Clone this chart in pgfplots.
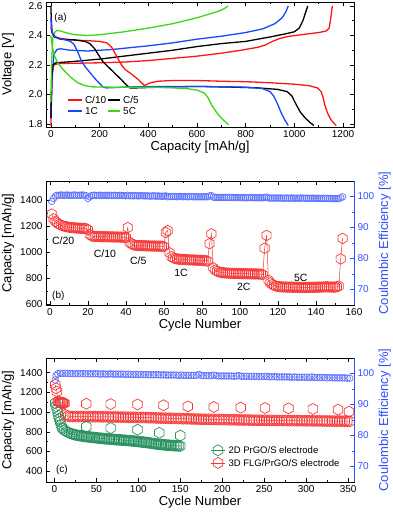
\documentclass[border=0pt]{standalone}
\usepackage{fontspec}
\setmainfont{Liberation Sans}
\usepackage{pgfplots}
\pgfplotsset{compat=1.18}

\definecolor{cred}{RGB}{255,20,20}
\definecolor{cblue}{RGB}{25,70,255}
\definecolor{cgreen}{RGB}{60,215,20}
\definecolor{hexred}{RGB}{245,55,55}
\definecolor{hexgreen}{RGB}{40,145,95}
\definecolor{ceblue}{RGB}{95,115,255}
\definecolor{axblue}{RGB}{50,80,255}

% open hexagon, pointy top
\pgfdeclareplotmark{hex}{%
  \pgfpathmoveto{\pgfpointpolar{90}{\pgfplotmarksize}}%
  \pgfpathlineto{\pgfpointpolar{150}{\pgfplotmarksize}}%
  \pgfpathlineto{\pgfpointpolar{210}{\pgfplotmarksize}}%
  \pgfpathlineto{\pgfpointpolar{270}{\pgfplotmarksize}}%
  \pgfpathlineto{\pgfpointpolar{330}{\pgfplotmarksize}}%
  \pgfpathlineto{\pgfpointpolar{30}{\pgfplotmarksize}}%
  \pgfpathclose
  \pgfusepathqstroke}

\pgfplotsset{
  panel/.style={
    scale only axis, width=308pt, anchor=south west,
    tick align=inside, major tick length=4pt, minor tick length=2pt,
    every tick/.style={black, line width=0.6pt},
    axis line style={line width=0.8pt},
    tick label style={font=\fontsize{10}{12}\selectfont},
    label style={font=\fontsize{13}{15}\selectfont},
    /pgf/number format/assume math mode=true,
    /pgf/number format/1000 sep={},
    x label style={at={(axis description cs:0.5,-0.165)}, anchor=center},
    y label style={at={(axis description cs:-0.123,0.5)}, anchor=center},
  },
  ceaxis/.style={
    scale only axis, width=308pt, height=124pt, anchor=south west,
    axis x line=none, axis y line*=right,
    tick align=inside, major tick length=4pt, minor tick length=2pt,
    every tick/.style={axblue, line width=0.6pt},
    axis line style={axblue, line width=0.8pt},
    tick label style={font=\fontsize{10}{12}\selectfont, text=axblue},
    label style={font=\fontsize{13}{15}\selectfont, text=axblue},
    /pgf/number format/assume math mode=true,
    ymin=65, ymax=105, ytick={70,80,90,100}, minor y tick num=1,
    ylabel={Coulombic Efficiency [\%]},
    y label style={at={(axis description cs:1.1,0.5)}, anchor=center},
  },
  curve/.style={line width=1.3pt, no marks},
  caph/.style={hexred, line width=0.5pt, mark=hex, mark size=5.3pt,
    mark options={solid, line width=0.7pt}},
  ceo/.style={ceblue, only marks, mark=o, mark size=3.3pt,
    mark options={line width=0.7pt}},
}

\begin{document}
\begin{tikzpicture}[x=1pt,y=1pt]
\useasboundingbox (0,0) rectangle (392,512);

% ---------------- (a) voltage profiles
\begin{axis}[panel,
  at={(46pt,385pt)}, height=125pt,
  xmin=-20, xmax=1245, ymin=1.78, ymax=2.627,
  xtick={0,200,400,600,800,1000,1200}, minor x tick num=1,
  ytick={1.8,2.0,2.2,2.4,2.6}, minor y tick num=1,
  yticklabel style={/pgf/number format/.cd, fixed, fixed zerofill, precision=1},
  xlabel={Capacity [mAh/g]}, ylabel={Voltage [V]},
]
% charge branches
\addplot[curve, color=cred] coordinates {(0,1.79)(2,1.95)(6,2.15)(12,2.2)(30,2.21)(100,2.212)(200,2.215)(300,2.22)(400,2.23)(500,2.245)(600,2.26)(700,2.28)(780,2.30)(850,2.32)(880,2.335)(910,2.36)(940,2.38)(980,2.395)(1050,2.41)(1100,2.42)(1130,2.43)(1143,2.45)(1148,2.5)(1152,2.55)(1156,2.6)};
\addplot[curve, color=cblue] coordinates {(0,1.84)(5,2.1)(12,2.27)(25,2.305)(40,2.31)(80,2.30)(150,2.295)(250,2.305)(400,2.33)(500,2.35)(600,2.375)(700,2.395)(800,2.42)(870,2.445)(920,2.48)(950,2.52)(965,2.56)(975,2.6)};
\addplot[curve, color=black] coordinates {(0,1.84)(3,2.1)(8,2.2)(20,2.215)(100,2.225)(200,2.24)(300,2.26)(400,2.28)(500,2.30)(600,2.325)(700,2.345)(800,2.36)(850,2.375)(900,2.39)(960,2.41)(1000,2.425)(1020,2.45)(1035,2.5)(1045,2.55)(1055,2.6)};
\addplot[curve, color=cgreen] coordinates {(0,1.95)(4,2.25)(8,2.38)(15,2.42)(25,2.435)(40,2.43)(70,2.415)(100,2.405)(150,2.40)(200,2.405)(300,2.425)(400,2.45)(500,2.48)(550,2.50)(600,2.52)(650,2.545)(690,2.565)(710,2.58)(728,2.6)};
% discharge branches
\addplot[curve, color=cred] coordinates {(0,2.46)(3,2.43)(8,2.41)(20,2.39)(40,2.38)(80,2.37)(150,2.365)(200,2.36)(230,2.35)(250,2.32)(270,2.26)(290,2.20)(305,2.17)(330,2.14)(360,2.10)(385,2.06)(395,2.07)(410,2.08)(440,2.09)(500,2.095)(600,2.095)(700,2.09)(800,2.087)(900,2.08)(1000,2.07)(1060,2.06)(1095,2.045)(1110,2.02)(1118,1.98)(1125,1.93)(1135,1.88)(1150,1.83)(1160,1.81)(1172,1.79)};
\addplot[curve, color=black] coordinates {(0,2.6)(2,2.5)(5,2.42)(15,2.39)(40,2.375)(100,2.37)(140,2.36)(160,2.345)(180,2.31)(195,2.27)(215,2.22)(240,2.18)(265,2.14)(290,2.10)(310,2.065)(325,2.045)(350,2.045)(450,2.05)(600,2.055)(750,2.05)(850,2.045)(930,2.035)(970,2.02)(990,1.99)(1005,1.94)(1025,1.88)(1045,1.84)(1065,1.81)(1080,1.79)};
\addplot[curve, color=cblue] coordinates {(0,2.52)(3,2.44)(10,2.40)(30,2.38)(60,2.37)(80,2.36)(95,2.34)(110,2.29)(125,2.23)(140,2.19)(160,2.15)(180,2.11)(200,2.075)(215,2.05)(230,2.045)(300,2.05)(400,2.055)(600,2.055)(800,2.05)(870,2.04)(900,2.02)(915,1.99)(930,1.94)(945,1.88)(960,1.83)(975,1.79)};
\addplot[curve, color=cgreen] coordinates {(0,2.40)(5,2.33)(15,2.26)(30,2.21)(50,2.17)(80,2.12)(110,2.08)(140,2.06)(170,2.052)(250,2.05)(400,2.05)(500,2.045)(560,2.04)(600,2.03)(630,2.01)(645,1.98)(660,1.93)(680,1.88)(700,1.84)(720,1.81)(730,1.795)};
\node[font=\fontsize{10}{12}\selectfont] at (axis cs:40,2.52) {(a)};
% legend keys, drawn by hand
\draw[cred, line width=1.3pt] (axis description cs:0.071,0.216) -- (axis description cs:0.117,0.216);
\node[anchor=west, inner sep=0pt, font=\fontsize{10}{12}\selectfont] at (axis description cs:0.126,0.216) {C/10};
\draw[black, line width=1.3pt] (axis description cs:0.201,0.216) -- (axis description cs:0.241,0.216);
\node[anchor=west, inner sep=0pt, font=\fontsize{10}{12}\selectfont] at (axis description cs:0.250,0.216) {C/5};
\draw[cblue, line width=1.3pt] (axis description cs:0.071,0.128) -- (axis description cs:0.117,0.128);
\node[anchor=west, inner sep=0pt, font=\fontsize{10}{12}\selectfont] at (axis description cs:0.126,0.128) {1C};
\draw[cgreen, line width=1.3pt] (axis description cs:0.201,0.128) -- (axis description cs:0.241,0.128);
\node[anchor=west, inner sep=0pt, font=\fontsize{10}{12}\selectfont] at (axis description cs:0.250,0.128) {5C};
\end{axis}

% ---------------- (b) rate capability
\begin{axis}[panel,
  at={(46pt,207pt)}, height=124pt,
  xmin=-2, xmax=160, ymin=595, ymax=1545,
  xtick={0,20,...,160}, minor x tick num=1,
  ytick={600,800,1000,1200,1400}, minor y tick num=1, ytick pos=left,
  xlabel={Cycle Number}, ylabel={Capacity [mAh/g]},
]
\addplot[caph] coordinates {
(1,1292)(2,1255)(3,1236)(4,1222)(5,1213)(6,1206)(7,1201)(8,1197)(9,1194)(10,1191)
(11,1189)(12,1188)(13,1186)(14,1185)(15,1184)(16,1183)(17,1182)(18,1182)(19,1181)(20,1172)
(21,1135)(22,1124)(23,1121)(24,1120)(25,1120)(26,1119)(27,1119)(28,1118)(29,1118)(30,1118)
(31,1117)(32,1117)(33,1117)(34,1116)(35,1116)(36,1116)(37,1115)(38,1115)(39,1114)(40,1112)
(41,1188)(42,1076)(43,1062)(44,1056)(45,1053)(46,1051)(47,1050)(48,1050)(49,1049)(50,1049)
(51,1048)(52,1048)(53,1047)(54,1047)(55,1047)(56,1046)(57,1046)(58,1046)(59,1045)(60,1043)
(61,1150)(62,1165)(63,995)(64,965)(65,955)(66,951)(67,948)(68,946)(69,945)(70,944)
(71,943)(72,942)(73,941)(74,941)(75,940)(76,939)(77,939)(78,938)(79,938)(80,937)
(81,936)(82,935)(83,931)(84,1065)(85,1140)(86,880)(87,862)(88,853)(89,848)(90,845)
(91,843)(92,841)(93,840)(94,839)(95,838)(96,838)(97,837)(98,837)(99,836)(100,836)
(101,835)(102,835)(103,835)(104,834)(105,834)(106,834)(107,833)(108,833)(109,833)(110,832)
(111,832)(112,828)(113,1030)(114,1128)(115,785)(116,765)(117,752)(118,745)(119,740)(120,737)
(121,735)(122,734)(123,733)(124,733)(125,732)(126,732)(127,732)(128,731)(129,731)(130,731)
(131,731)(132,730)(133,730)(134,730)(135,730)(136,730)(137,731)(138,731)(139,731)(140,731)
(141,732)(142,732)(143,733)(144,733)(145,734)(146,734)(147,733)(148,733)(149,732)(150,732)
(151,735)(152,740)(153,948)(154,1105)};
\node[font=\fontsize{10.5}{12}\selectfont] at (axis cs:7,1088) {C/20};
\node[font=\fontsize{10.5}{12}\selectfont] at (axis cs:29,991) {C/10};
\node[font=\fontsize{10.5}{12}\selectfont] at (axis cs:46.5,935) {C/5};
\node[font=\fontsize{10.5}{12}\selectfont] at (axis cs:69,838) {1C};
\node[font=\fontsize{10.5}{12}\selectfont] at (axis cs:102,731) {2C};
\node[font=\fontsize{10.5}{12}\selectfont] at (axis cs:132,805) {5C};
\node[font=\fontsize{10}{12}\selectfont] at (axis cs:4.5,668) {(b)};
\end{axis}
\begin{axis}[ceaxis, at={(46pt,207pt)}, xmin=-2, xmax=160]
\addplot[ceo] coordinates {
(1,98.4)(2,99.4)(3,100.2)(4,100.4)(5,100.4)(6,100.5)(7,100.4)(8,100.4)(9,100.5)(10,100.4)
(11,100.4)(12,100.4)(13,100.5)(14,100.4)(15,100.4)(16,100.4)(17,100.5)(18,100.4)(19,100.3)(20,99.4)
(21,99.9)(22,100.3)(23,100.4)(24,100.4)(25,100.3)(26,100.4)(27,100.4)(28,100.3)(29,100.4)(30,100.4)
(31,100.3)(32,100.4)(33,100.3)(34,100.4)(35,100.3)(36,100.3)(37,100.4)(38,100.3)(39,100.3)(40,100.2)
(41,100.4)(42,100.2)(43,100.3)(44,100.2)(45,100.3)(46,100.2)(47,100.2)(48,100.3)(49,100.2)(50,100.2)
(51,100.2)(52,100.2)(53,100.1)(54,100.2)(55,100.2)(56,100.1)(57,100.2)(58,100.1)(59,100.1)(60,100.1)
(61,100.2)(62,99.9)(63,100.0)(64,100.0)(65,100.0)(66,100.0)(67,99.9)(68,100.0)(69,100.0)(70,99.9)
(71,100.0)(72,99.9)(73,99.9)(74,100.0)(75,99.9)(76,99.9)(77,99.9)(78,99.9)(79,99.9)(80,99.9)
(81,99.9)(82,99.9)(83,99.9)(84,100.2)(85,100.3)(86,99.8)(87,99.7)(88,99.7)(89,99.7)(90,99.7)
(91,99.7)(92,99.7)(93,99.7)(94,99.7)(95,99.7)(96,99.7)(97,99.6)(98,99.7)(99,99.7)(100,99.6)
(101,99.7)(102,99.6)(103,99.6)(104,99.6)(105,99.7)(106,99.6)(107,99.6)(108,99.6)(109,99.6)(110,99.6)
(111,99.6)(112,99.6)(113,99.7)(114,99.8)(115,99.5)(116,99.5)(117,99.5)(118,99.5)(119,99.5)(120,99.5)
(121,99.5)(122,99.5)(123,99.4)(124,99.5)(125,99.5)(126,99.4)(127,99.5)(128,99.5)(129,99.4)(130,99.5)
(131,99.4)(132,99.5)(133,99.5)(134,99.4)(135,99.5)(136,99.4)(137,99.4)(138,99.5)(139,99.4)(140,99.4)
(141,99.4)(142,99.4)(143,99.4)(144,99.4)(145,99.4)(146,99.4)(147,99.3)(148,99.4)(149,99.3)(150,99.3)
(151,99.3)(152,99.3)(153,99.6)(154,99.9)};
\end{axis}

% ---------------- (c) long cycling
\begin{axis}[panel,
  at={(46pt,30pt)}, height=124pt,
  xmin=-10, xmax=357, ymin=290, ymax=1550,
  xtick={0,50,...,350}, minor x tick num=1,
  ytick={400,600,800,1000,1200,1400}, minor y tick num=1, ytick pos=left,
  xlabel={Cycle Number}, ylabel={Capacity [mAh/g]},
  every axis legend/.style={at={(axis description cs:0.975,0.07)},
    anchor=south east, cells={anchor=west},
    font=\fontsize{9.5}{11}\selectfont, row sep=-1pt},
  legend image code/.code={\draw[mark repeat=2, mark phase=2, #1]
    plot coordinates {(0pt,0pt) (7pt,0pt) (14pt,0pt)};},
]
\addplot[hexgreen, line width=0.5pt, mark=hex, mark size=5.5pt,
  mark options={solid, line width=0.7pt}] coordinates {
(1,1092)(2,1062)(3,1030)(4,1000)(5,962)(6,930)(7,905)(8,870)(9,846)(10,830)
(12,815)(14,805)(16,796)(18,788)(20,781)(22,776)(24,771)(26,767)(28,764)(30,761)
(32,758)(34,756)(36,753)(38,751)(40,749)(42,747)(44,745)(46,743)(48,741)(50,739)
(52,737)(54,735)(56,734)(58,732)(60,730)(62,729)(64,727)(66,726)(68,724)(70,723)
(72,722)(74,720)(76,719)(78,718)(80,716)(82,715)(84,714)(86,712)(88,711)(90,710)
(92,708)(94,707)(96,705)(98,703)(100,701)(102,699)(104,697)(106,695)(108,693)(110,691)
(112,688)(114,686)(116,683)(118,681)(120,678)(122,676)(124,674)(126,672)(128,670)(130,668)
(132,667)(134,665)(136,664)(138,662)(140,661)(142,660)(144,659)(146,658)(148,657)(150,656)};
\addlegendentry{2D PrGO/S electrode}
\addplot[hexred, line width=0.5pt, mark=hex, mark size=5.5pt,
  mark options={solid, line width=0.7pt}] coordinates {
(1,1278)(2,1242)(3,1210)(4,1108)(5,1104)(6,1101)(7,1099)(8,1098)(9,1096)(10,1094)
(11,1092)(12,1090)(13,972)(16,960)(19,957)(22,956)(25,956)(28,955)(31,955)(34,955)
(37,954)(40,954)(43,954)(46,953)(49,953)(52,953)(55,952)(58,952)(61,952)(64,951)
(67,951)(70,951)(73,950)(76,950)(79,950)(82,949)(85,949)(88,948)(91,948)(94,947)
(97,947)(100,946)(103,945)(106,945)(109,944)(112,943)(115,943)(118,942)(121,941)(124,940)
(127,940)(130,939)(133,938)(136,938)(139,937)(142,936)(145,935)(148,935)(151,934)(154,933)
(157,933)(160,932)(163,931)(166,930)(169,930)(172,929)(175,928)(178,928)(181,927)(184,927)
(187,926)(190,926)(193,925)(196,925)(199,924)(202,924)(205,923)(208,923)(211,922)(214,922)
(217,921)(220,921)(223,920)(226,920)(229,920)(232,919)(235,919)(238,918)(241,918)(244,918)
(247,917)(250,917)(253,917)(256,916)(259,916)(262,916)(265,915)(268,915)(271,915)(274,914)
(277,914)(280,914)(283,913)(286,913)(289,913)(292,913)(295,912)(298,912)(301,912)(304,912)
(307,911)(310,911)(313,911)(316,911)(319,910)(322,910)(325,910)(328,910)(331,909)(334,909)
(337,909)(340,909)(343,908)(346,908)(349,908)(352,907)};
\addlegendentry{3D FLG/PrGO/S electrode}
% single high points after rests
\addplot[hexgreen, only marks, mark=hex, mark size=5.5pt, mark options={line width=0.7pt},
  forget plot] coordinates {(38,852)(67,838)(99,822)(125,790)(150,762)};
\addplot[hexred, only marks, mark=hex, mark size=5.5pt, mark options={line width=0.7pt},
  forget plot] coordinates {(38,1085)(67,1082)(99,1078)(130,1070)(159,1058)(190,1052)
  (222,1046)(251,1042)(279,1038)(308,1032)(338,1025)(351,1005)};
\node[font=\fontsize{10}{12}\selectfont] at (axis cs:9,410) {(c)};
\end{axis}
\begin{axis}[ceaxis, at={(46pt,30pt)}, xmin=-10, xmax=357]
\addplot[ceo] coordinates {
(1,97.9)(2,99.3)(4,99.9)(7,100.1)(10,100.0)(13,100.1)(16,100.0)(19,100.0)(22,100.0)(25,99.9)
(28,100.0)(31,99.9)(34,100.0)(37,99.9)(40,99.9)(43,99.9)(46,99.9)(49,99.9)(52,99.9)(55,99.8)
(58,99.9)(61,99.8)(64,99.8)(67,99.9)(70,99.8)(73,99.8)(76,99.8)(79,99.8)(82,99.8)(85,99.7)
(88,99.8)(91,99.7)(94,99.7)(97,99.7)(100,99.7)(103,99.7)(106,99.6)(109,99.7)(112,99.6)(115,99.6)
(118,99.6)(121,99.6)(124,99.6)(127,99.5)(130,99.6)(133,99.5)(136,99.5)(139,99.5)(142,99.5)(145,99.5)
(148,99.4)(151,99.5)(154,99.4)(157,99.4)(160,99.4)(163,99.4)(166,99.4)(169,99.4)(172,99.7)(175,99.4)
(178,99.3)(181,99.3)(184,99.3)(187,99.3)(190,99.5)(193,99.3)(196,99.2)(199,99.2)(202,99.2)(205,99.2)
(208,99.2)(211,99.2)(214,99.1)(217,99.2)(220,99.3)(223,99.1)(226,99.1)(229,99.1)(232,99.1)(235,99.0)
(238,99.1)(241,99.0)(244,99.0)(247,99.0)(250,99.1)(253,99.0)(256,99.0)(259,98.9)(262,99.0)(265,98.9)
(268,98.9)(271,98.9)(274,98.9)(277,98.9)(280,98.9)(283,98.8)(286,98.9)(289,98.8)(292,98.8)(295,98.8)
(298,98.8)(301,98.8)(304,98.7)(307,98.9)(310,98.7)(313,98.7)(316,98.7)(319,98.7)(322,98.7)(325,98.6)
(328,98.7)(331,98.6)(334,98.6)(337,98.6)(340,98.6)(343,98.6)(346,98.6)(349,98.5)(352,98.5)};
\end{axis}
\end{tikzpicture}
\end{document}
